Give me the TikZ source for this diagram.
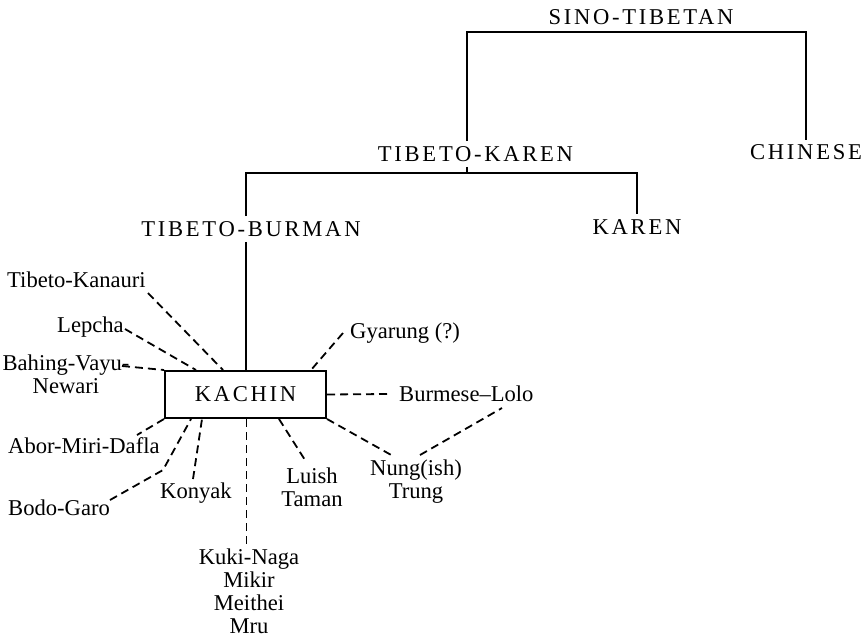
\documentclass[tikz,border=0pt]{standalone}
\usepackage{fontspec}
\setmainfont{Liberation Serif}
\newfontfamily\capsfont[LetterSpace=12]{Liberation Serif}
\begin{document}
\begin{tikzpicture}[x=1pt,y=-1pt,
  lbl/.style={inner sep=0pt, font=\fontsize{22.6}{23}\selectfont},
  capnode/.style={inner xsep=0pt, inner ysep=5pt, font=\fontsize{22.6}{23}\selectfont\capsfont},
  solidline/.style={line width=2pt},
  dline/.style={line width=1.8pt, dash pattern=on 8pt off 5pt}]
\useasboundingbox (0,0) rectangle (866,638);
% tree labels
\node[capnode] (ST) at (641,17.5) {SINO-TIBETAN};
\node[capnode] (TK) at (475.5,154) {TIBETO-KAREN};
\node[capnode] (CH) at (806,152.5) {CHINESE};
\node[capnode] (TB) at (251,229) {TIBETO-BURMAN};
\node[capnode] (KR) at (637,227) {KAREN};
\node[draw, solidline, minimum width=161pt, minimum height=47pt, inner sep=0pt,
      font=\fontsize{22.6}{23}\selectfont\capsfont] (K) at (245.5,394.5) {KACHIN};
% bracket corners
\coordinate (stl) at (467,32);
\coordinate (str) at (806,32);
\coordinate (tkl) at (246,173);
\coordinate (tkr) at (637,173);
\coordinate (tkm) at (467,173);
\draw[solidline] (TK.north -| stl) -- (stl) -- (str) -- (CH.north -| str);
\draw[solidline] (TK.south -| tkm) -- (tkm);
\draw[solidline] (TB.north -| tkl) -- (tkl) -- (tkr) -- (KR.north -| tkr);
\draw[solidline] (TB.south -| tkl) -- (K.north -| tkl);
% language labels
\node[lbl, anchor=base west] (TKa) at (7,287) {Tibeto-Kanauri};
\node[lbl, anchor=base west] (LE) at (57,332) {Lepcha};
\node[lbl, align=center] (BV) at (66,374) {Bahing-Vayu-\\Newari};
\node[lbl, anchor=base west] (GY) at (350,338) {Gyarung (?)};
\node[lbl, anchor=base west] (BL) at (399,401) {Burmese–Lolo};
\node[lbl, align=center] (NT) at (416,482) {Nung(ish)\\Trung};
\node[lbl, anchor=base west] (AM) at (8,453) {Abor-Miri-Dafla};
\node[lbl, anchor=base west] (BG) at (8,515) {Bodo-Garo};
\node[lbl, anchor=base west] (KO) at (160,498) {Konyak};
\node[lbl, align=center] (LT) at (312,487) {Luish\\Taman};
\node[lbl, align=center] (KN) at (249,591) {Kuki-Naga\\Mikir\\Meithei\\Mru};
% connector ends near labels
\coordinate (cTKa) at (148,293);
\coordinate (cLE) at (125,329);
\coordinate (cBV) at (122,366);
\coordinate (cGY) at (343,333);
\coordinate (cBL) at (388,394);
\coordinate (cNT1) at (393,456);
\coordinate (cNT2) at (420,455);
\coordinate (cBLb) at (502,408);
\coordinate (cAM) at (137,435);
\coordinate (cBG) at (110,500);
\coordinate (cBGk) at (163,470);
\coordinate (cKO) at (193,479);
\coordinate (cKN) at (246.5,545);
\coordinate (cLT) at (305,460);
% dashed connectors
\draw[dline] (cTKa) -- ([xshift=59pt]K.north west);
\draw[dline] (cLE) -- ([xshift=32pt]K.north west);
\draw[dline] (cBV) -- (K.north west);
\draw[dline] (cGY) -- ([xshift=-16pt]K.north east);
\draw[dline] (K.east) -- (cBL);
\draw[dline] (K.south east) -- (cNT1);
\draw[dline] (cNT2) -- (cBLb);
\draw[dline] (K.south west) -- (cAM);
\draw[dline] (cBG) -- (cBGk) -- ([xshift=27pt]K.south west);
\draw[dline] (cKO) -- ([xshift=38pt]K.south west);
\draw[dline] (K.south -| cKN) -- (cKN);
\draw[dline] ([xshift=115pt]K.south west) -- (cLT);
\end{tikzpicture}
\end{document}
